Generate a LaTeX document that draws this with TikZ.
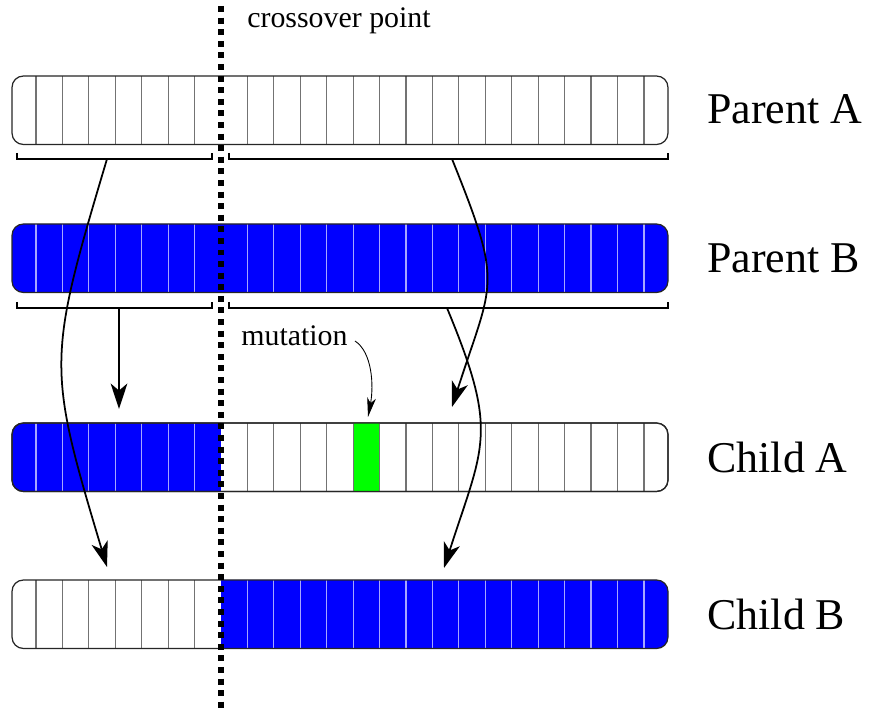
\documentclass[tikz,border=0pt]{standalone}
\usepackage{fontspec}
\setmainfont{Liberation Serif}
\newfontfamily\tagfont{Liberation Serif}
\usetikzlibrary{arrows.meta, positioning, calc}

\begin{document}
\begin{tikzpicture}[x=0.02cm,y=-0.02cm]

\tikzstyle{gene}  = [rounded corners=6.5pt]
\tikzstyle{cutw}  = [black!55, line width=0.7pt]
\tikzstyle{cutb}  = [blue!35!white, line width=0.7pt]
\tikzstyle{outline}  = [black!85, line width=0.7pt]
\tikzstyle{seg}  = [line width=0.6pt]
\tikzstyle{transfer}  = [-{Stealth[length=14.5pt,width=9.5pt,inset=4pt]}, line width=1pt]
\tikzstyle{mutarrow}  = [-{Stealth[length=11pt,width=5pt,inset=3pt]}, line width=0.5pt]
\tikzstyle{rowname}  = [anchor=base west, inner sep=0pt, font=\tagfont\fontsize{25}{30}\selectfont]
\tikzstyle{remark}  = [anchor=base west, inner sep=0pt, font=\tagfont\fontsize{17}{20}\selectfont]
\tikzstyle{crossover}  = [line width=3.4pt, dash pattern=on 3.4pt off 3.2pt]

\useasboundingbox (0,0) rectangle (870,709);

\def\xl{12}
\def\xc{221}
\def\xr{668}
\def\bh{68.5}
\def\cw{26.43}

% chromosome: top, left fill, right fill, left cuts, right cuts
\def\chrom#1#2#3#4#5{
\begin{scope}
  \clip (\xl,#1) rectangle (\xc,#1+\bh);
  \fill[#2,gene] (\xl,#1) rectangle (\xr,#1+\bh);
\end{scope}
\begin{scope}
  \clip (\xc,#1) rectangle (\xr,#1+\bh);
  \fill[#3,gene] (\xl,#1) rectangle (\xr,#1+\bh);
\end{scope}
\foreach \k in {0,...,6}
  \draw[#4] (36+\k*\cw,#1) -- ++(0,\bh);
\foreach \k in {8,...,23}
  \draw[#5] (36+\k*\cw,#1) -- ++(0,\bh);
\draw[outline,gene] (\xl,#1) rectangle (\xr,#1+\bh);
}

% bracket under a part: from, to, y
\def\segm#1#2#3{
\draw[seg] (#1,#3-6) -- (#1,#3) -- (#2,#3) -- (#2,#3-6);
}

\chrom{76}{white}{white}{cutw}{cutw}
\chrom{224}{blue}{blue}{cutb}{cutb}
\chrom{423}{blue}{white}{cutb}{cutw}
\chrom{580}{white}{blue}{cutw}{cutb}

% mutated gene
\fill[green] (36+12*\cw,423) rectangle (36+13*\cw,423+\bh);
\draw[cutw] (36+12*\cw,423) -- ++(0,\bh);
\draw[cutw] (36+13*\cw,423) -- ++(0,\bh);
\draw[outline,gene] (\xl,423) rectangle (\xr,423+\bh);

\segm{17}{212}{159}
\segm{229}{668}{159}
\segm{17}{212}{308}
\segm{229}{668}{308}

\coordinate (pa-l) at (107,159);
\coordinate (pa-r) at (452,159);
\coordinate (pb-l) at (119,308);
\coordinate (pb-r) at (447,308);
\coordinate (ca-l) at (119,409);
\coordinate (ca-r) at (452,407);
\coordinate (cb-l) at (107,567);
\coordinate (cb-r) at (444,568);

\draw[transfer] (pa-l) .. controls (47,360) and (47,367) .. (cb-l);
\draw[transfer] (pa-r) .. controls (504,288) and (493,279) .. (ca-r);
\draw[transfer] (pb-l) -- (ca-l);
\draw[transfer] (pb-r) .. controls (499,433) and (484,444) .. (cb-r);

\node[remark] (xo) at (247,28) {crossover point};
\node[remark] (mut) at (241,346) {mutation};

\coordinate (mutfrom) at (355,341);
\coordinate (mutcell) at (368,417);
\draw[mutarrow] (mutfrom) .. controls (372,352) and (374,385) .. (mutcell);

\node[rowname] (pa) at (707,124) {Parent A};
\node[rowname] (pb) at (707,273) {Parent B};
\node[rowname] (ca) at (707,473) {Child A};
\node[rowname] (cb) at (707,630) {Child B};

\coordinate (xtop) at (220.7,6);
\coordinate (xbot) at (220.7,709);
\draw[crossover] (xtop) -- (xbot);

\end{tikzpicture}
\end{document}
